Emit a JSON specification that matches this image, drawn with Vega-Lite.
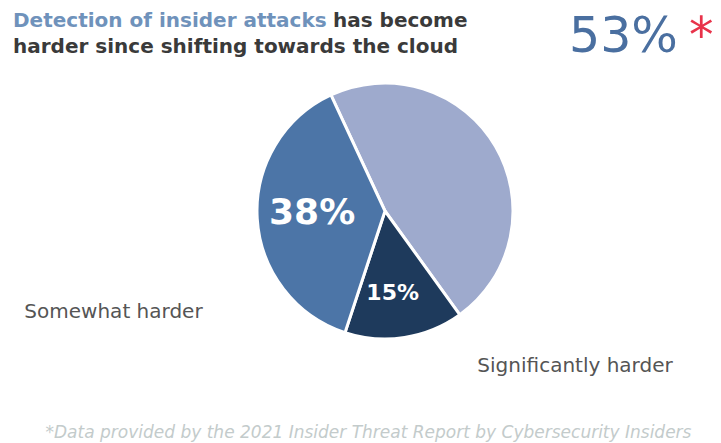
{
  "$schema": "https://vega.github.io/schema/vega-lite/v6.json",
  "background": "white",
  "padding": {"top": 10, "left": 0, "right": 0, "bottom": 0},
  "bounds": "flush",
  "spacing": 0,
  "config": {"view": {"stroke": null}, "font": "DejaVu Sans"},
  "datasets": {
    "survey": [
      {"category": "Not harder", "value": 47, "label": "47%"},
      {"category": "Significantly harder", "value": 15, "label": "15%"},
      {"category": "Somewhat harder", "value": 38, "label": "38%"}
    ]
  },
  "vconcat": [
    {
      "bounds": "flush",
      "spacing": 0,
      "hconcat": [
        {
          "width": 333,
          "height": 1,
          "data": {"values": [{"k": 1}]},
          "mark": {"type": "text", "text": ""},
          "title": {
            "text": "Detection of insider attacks",
            "subtitle": "harder since shifting towards the cloud",
            "anchor": "start",
            "frame": "group",
            "dx": 13,
            "offset": 4,
            "font": "DejaVu Sans",
            "fontSize": 20,
            "fontWeight": "bold",
            "color": "#6f92bb",
            "subtitleFont": "DejaVu Sans",
            "subtitleFontSize": 20,
            "subtitleFontWeight": "bold",
            "subtitleColor": "#3a3a3a",
            "subtitlePadding": 6
          }
        },
        {
          "width": 236,
          "height": 1,
          "data": {"values": [{"k": 1}]},
          "mark": {"type": "text", "text": ""},
          "title": {
            "text": "has become",
            "anchor": "start",
            "frame": "group",
            "offset": 30,
            "font": "DejaVu Sans",
            "fontSize": 20,
            "fontWeight": "bold",
            "color": "#3a3a3a"
          }
        },
        {
          "width": 120,
          "height": 1,
          "data": {"values": [{"k": 1}]},
          "mark": {"type": "text", "text": ""},
          "title": {
            "text": "53%",
            "anchor": "start",
            "frame": "group",
            "offset": -1,
            "font": "DejaVu Sans",
            "fontSize": 49,
            "fontWeight": "normal",
            "color": "#4a6fa0"
          }
        },
        {
          "width": 32,
          "height": 1,
          "data": {"values": [{"k": 1}]},
          "mark": {"type": "text", "text": ""},
          "title": {
            "text": "*",
            "anchor": "start",
            "frame": "group",
            "offset": -1,
            "font": "DejaVu Sans",
            "fontSize": 49,
            "fontWeight": "normal",
            "color": "#e8334a"
          }
        }
      ]
    },
    {
      "bounds": "flush",
      "spacing": 0,
      "hconcat": [
        {
          "width": 49,
          "height": 290,
          "data": {"values": [{"k": 1}]},
          "mark": {"type": "text", "text": ""}
        },
        {
          "width": 672,
          "height": 290,
          "data": {"name": "survey"},
          "encoding": {
            "theta": {
              "field": "value",
              "type": "quantitative",
              "stack": true,
              "scale": {"range": [-0.4363, 5.8469]}
            },
            "order": {"field": "category", "type": "nominal", "sort": "ascending"}
          },
          "layer": [
            {
              "mark": {"type": "arc", "radius": 128, "stroke": "white", "strokeWidth": 3},
              "encoding": {
                "color": {
                  "field": "category",
                  "type": "nominal",
                  "scale": {
                    "domain": ["Not harder", "Significantly harder", "Somewhat harder"],
                    "range": ["#9eaacd", "#1e3a5c", "#4c75a7"]
                  },
                  "legend": null
                }
              }
            },
            {
              "mark": {"type": "text", "radius": 73, "dy": -2, "fontSize": 36, "fontWeight": "bold", "color": "white", "align": "center", "baseline": "middle"},
              "encoding": {
                "detail": {"field": "category", "type": "nominal"},
                "text": {"condition": {"test": "datum.category === 'Somewhat harder'", "field": "label"}, "value": ""}
              }
            },
            {
              "mark": {"type": "text", "radius": 83, "dx": -5, "fontSize": 22, "fontWeight": "bold", "color": "white", "align": "center", "baseline": "middle"},
              "encoding": {
                "detail": {"field": "category", "type": "nominal"},
                "text": {"condition": {"test": "datum.category === 'Significantly harder'", "field": "label"}, "value": ""}
              }
            },
            {
              "mark": {"type": "text", "radius": 272, "dy": 85, "fontSize": 20, "color": "#555555", "align": "center", "baseline": "middle"},
              "encoding": {
                "detail": {"field": "category", "type": "nominal"},
                "text": {"condition": {"test": "datum.category === 'Somewhat harder'", "field": "category"}, "value": ""}
              }
            },
            {
              "mark": {"type": "text", "radius": 157, "dx": 166, "fontSize": 20, "color": "#555555", "align": "center", "baseline": "middle"},
              "encoding": {
                "detail": {"field": "category", "type": "nominal"},
                "text": {"condition": {"test": "datum.category === 'Significantly harder'", "field": "category"}, "value": ""}
              }
            }
          ]
        }
      ]
    },
    {
      "width": 721,
      "height": 1,
      "data": {"values": [{"k": 1}]},
      "mark": {"type": "text", "text": ""},
      "title": {
        "text": "*Data provided by the 2021 Insider Threat Report by Cybersecurity Insiders",
        "orient": "bottom",
        "anchor": "middle",
        "frame": "group",
        "offset": 353,
        "dx": 8,
        "font": "DejaVu Sans",
        "fontSize": 17,
        "fontStyle": "italic",
        "fontWeight": "normal",
        "color": "#c3cbcb"
      }
    }
  ]
}
